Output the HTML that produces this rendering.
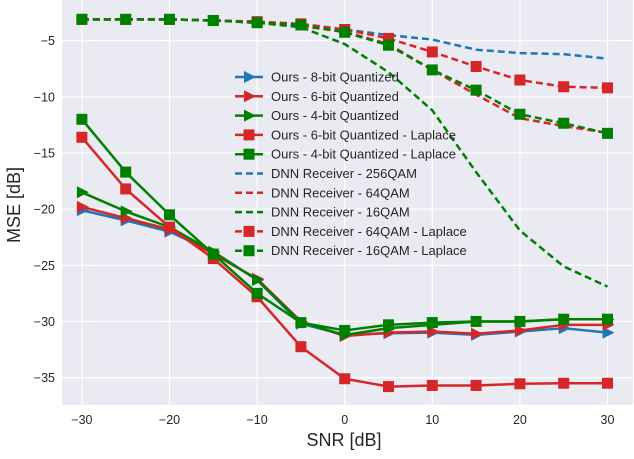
<!DOCTYPE html>
<html><head><meta charset="utf-8"><style>
body{margin:0;background:#fff}
svg{font-family:"Liberation Sans","DejaVu Sans",sans-serif}
</style></head><body>
<svg id="chart" width="634" height="454">
<rect x="62" y="0" width="571" height="405" fill="#EAEAF2"/>
<g id="grid"></g><g id="ticks"></g><g id="series"></g><g id="legend"></g>
<text x="344" y="446" font-size="18" text-anchor="middle" fill="#262626">SNR [dB]</text>
<text x="20" y="205" font-size="18" text-anchor="middle" fill="#262626" transform="rotate(-90 20 205)">MSE [dB]</text>
</svg>
<script>
const snr=[-30,-25,-20,-15,-10,-5,0,5,10,15,20,25,30];
const xTicks=[-30,-20,-10,0,10,20,30];
const yTicks=[-5,-10,-15,-20,-25,-30,-35];
const ours8=[-20.1,-21.0,-22.0,-23.8,-26.3,-30.2,-31.2,-31.05,-31.0,-31.2,-30.9,-30.6,-31.0];
const ours6=[-19.8,-20.8,-21.8,-24.0,-26.2,-30.0,-31.3,-31.0,-30.9,-31.1,-30.8,-30.3,-30.3];
const ours4=[-18.5,-20.2,-21.6,-23.8,-26.3,-30.1,-31.2,-30.6,-30.3,-30.0,-30.0,-29.8,-29.8];
const ours6L=[-13.6,-18.2,-21.6,-24.4,-27.8,-32.25,-35.1,-35.8,-35.7,-35.7,-35.55,-35.5,-35.5];
const ours4L=[-12.0,-16.7,-20.5,-24.0,-27.5,-30.1,-30.8,-30.3,-30.1,-30.0,-30.0,-29.8,-29.8];
const dnn256=[-3.1,-3.1,-3.1,-3.2,-3.3,-3.6,-4.0,-4.5,-4.9,-5.8,-6.1,-6.2,-6.6];
const dnn64=[-3.1,-3.1,-3.1,-3.2,-3.4,-3.7,-4.2,-5.3,-7.6,-9.8,-11.9,-12.6,-13.2];
const dnn16=[-3.1,-3.1,-3.1,-3.2,-3.4,-3.8,-5.3,-7.8,-11.2,-16.7,-21.9,-25.1,-26.9];
const dnn64L=[-3.1,-3.1,-3.1,-3.2,-3.3,-3.5,-4.0,-4.8,-6.0,-7.3,-8.5,-9.1,-9.2];
const dnn16L=[-3.1,-3.1,-3.1,-3.2,-3.4,-3.6,-4.25,-5.4,-7.6,-9.4,-11.55,-12.35,-13.25];
const NS="http://www.w3.org/2000/svg";
const X=v=>344.7+v*8.76;
const Y=v=>40.7+(-5-v)*11.23;
function mk(tag,attrs,parent){const e=document.createElementNS(NS,tag);for(const k in attrs)e.setAttribute(k,attrs[k]);parent.appendChild(e);return e;}
const grid=document.getElementById('grid'),ticks=document.getElementById('ticks');
xTicks.forEach(t=>{
 const l=mk('line',{x1:X(t),x2:X(t),y1:0,y2:405,stroke:'#fff','stroke-width':1.2},grid);
 
 
 const tx=mk('text',{x:X(t),y:424,'font-size':12.5,'text-anchor':'middle',fill:'#262626'},ticks);
 tx.textContent=(t<0?'\u2212'+(-t):t);
 
 
});
yTicks.forEach(t=>{
 const l=mk('line',{x1:62,x2:633,y1:Y(t),y2:Y(t),stroke:'#fff','stroke-width':1.2},grid);
 
 
 const tx=mk('text',{x:55,y:Y(t)+4.5,'font-size':12.5,'text-anchor':'end',fill:'#262626'},ticks);
 tx.textContent='\u2212'+(-t);
 
 
});
const B='#1f77b4',R='#d62728',G='#008000';
const defs=[
 {n:'Ours - 8-bit Quantized',d:ours8,c:B,dash:false,m:'tri'},
 {n:'Ours - 6-bit Quantized',d:ours6,c:R,dash:false,m:'tri'},
 {n:'Ours - 4-bit Quantized',d:ours4,c:G,dash:false,m:'tri'},
 {n:'Ours - 6-bit Quantized - Laplace',d:ours6L,c:R,dash:false,m:'sq'},
 {n:'Ours - 4-bit Quantized - Laplace',d:ours4L,c:G,dash:false,m:'sq'},
 {n:'DNN Receiver - 256QAM',d:dnn256,c:B,dash:true,m:null},
 {n:'DNN Receiver - 64QAM',d:dnn64,c:R,dash:true,m:null},
 {n:'DNN Receiver - 16QAM',d:dnn16,c:G,dash:true,m:null},
 {n:'DNN Receiver - 64QAM - Laplace',d:dnn64L,c:R,dash:true,m:'sq'},
 {n:'DNN Receiver - 16QAM - Laplace',d:dnn16L,c:G,dash:true,m:'sq'}
];
function marker(m,x,y,c,p){
 if(m==='sq'){return mk('rect',{x:x-5.5,y:y-5.5,width:11,height:11,fill:c},p);}
 return mk('polygon',{points:`${x+7},${y} ${x-5},${y-6} ${x-5},${y+6}`,fill:c},p);
}
const series=document.getElementById('series'),legend=document.getElementById('legend');
defs.forEach((s,i)=>{
 const g=mk('g',{},series);
 
 
 const pts=s.d.map((v,j)=>X(snr[j])+','+Y(v)).join(' ');
 const pl=mk('polyline',{points:pts,fill:'none',stroke:s.c,'stroke-width':2.5,'stroke-dasharray':s.dash?'7,4':'none','stroke-linejoin':'round'},g);
 
 
 if(s.m){s.d.forEach((v,j)=>{
  const mm=marker(s.m,X(snr[j]),Y(v),s.c,g);
  
  
 });}
 const ly=77+i*19.3;
 const lg=mk('g',{},legend);
 
 
 mk('line',{x1:235,x2:263,y1:ly,y2:ly,stroke:s.c,'stroke-width':2.5,'stroke-dasharray':s.dash?'7,4':'none'},lg);
 if(s.m) marker(s.m,249,ly,s.c,lg);
 const t=mk('text',{x:271,y:ly+4.5,'font-size':13,fill:'#262626'},lg);
 t.textContent=s.n;
});
</script>
</body></html>
